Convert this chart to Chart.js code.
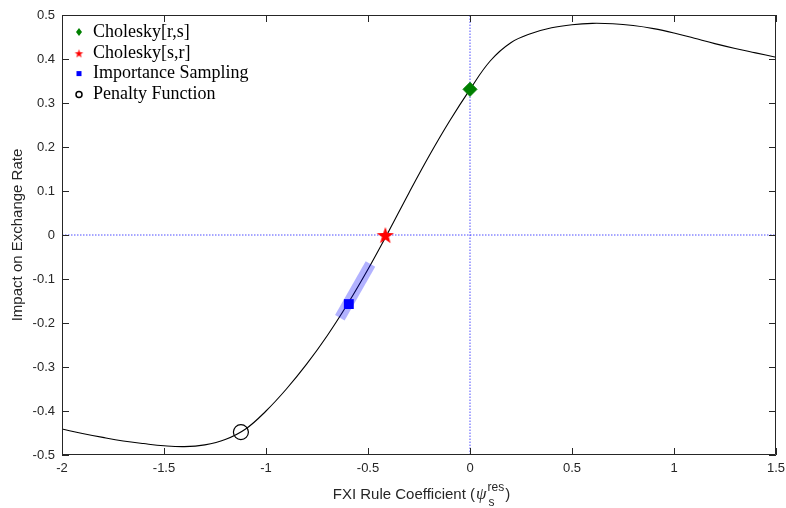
<!DOCTYPE html>
<html>
<head>
<meta charset="utf-8">
<script src="https://cdn.jsdelivr.net/npm/chart.js@4.4.1/dist/chart.umd.min.js"></script>
<style>
html, body {margin: 0; padding: 0; background: #fff;}
</style>
</head>
<body>
<canvas id="grafic" width="786" height="508"></canvas>
<script>
// values
const xTicks = [-2, -1.5, -1, -0.5, 0, 0.5, 1, 1.5];
const yTicks = [-0.5, -0.4, -0.3, -0.2, -0.1, 0, 0.1, 0.2, 0.3, 0.4, 0.5];

const curveX = [-2.0, -1.9, -1.8, -1.7, -1.6, -1.5, -1.4, -1.3, -1.2, -1.1, -1.0, -0.9, -0.8, -0.7, -0.6, -0.5, -0.4, -0.3, -0.2, -0.1,
                0.0, 0.1, 0.2, 0.3, 0.4, 0.5, 0.6, 0.7, 0.8, 0.9, 1.0, 1.1, 1.2, 1.3, 1.4, 1.5];
const curveY = [-0.441, -0.451, -0.460, -0.468, -0.474, -0.479, -0.481, -0.477, -0.465, -0.441, -0.400, -0.350, -0.293, -0.229, -0.157, -0.078, 0.007, 0.095, 0.180, 0.259,
                0.331, 0.396, 0.437, 0.458, 0.471, 0.478, 0.481, 0.480, 0.476, 0.469, 0.459, 0.447, 0.435, 0.424, 0.414, 0.404];

const choleskyRS = [0, 0.331];
const choleskySR = [-0.415, 0];
const importance = [-0.594, -0.157];
const penalty = [-1.123, -0.448];
const bandX = [-0.638, -0.488];
const bandY = [-0.188, -0.066];

const legendLabels = ['Cholesky[r,s]', 'Cholesky[s,r]', 'Importance Sampling', 'Penalty Function'];

function make_star(outer, color) {
    const c = document.createElement('canvas');
    const s = Math.ceil(outer * 2 + 2);
    c.width = s;
    c.height = s;
    const g = c.getContext('2d');
    const inner = outer * 0.4;
    g.beginPath();
    for (let i = 0; i < 10; i++) {
        const r = i % 2 === 0 ? outer : inner;
        const a = -Math.PI / 2 + i * Math.PI / 5;
        const px = s / 2 + r * Math.cos(a);
        const py = s / 2 + 1 + r * Math.sin(a);
        if (i === 0) g.moveTo(px, py); else g.lineTo(px, py);
    }
    g.closePath();
    g.fillStyle = color;
    g.fill();
    return c;
}

const bigStar = make_star(9, '#ff0000');
const smallStar = make_star(4.5, '#ff0000');

function pairs(xs, ys) {
    return xs.map((v, i) => ({x: v, y: ys[i]}));
}

const frame = {
    id: 'frame',
    afterDatasetsDraw(chart) {
        const ctx = chart.ctx;
        const a = chart.chartArea;
        const sx = chart.scales.x;
        const sy = chart.scales.y;
        ctx.save();
        ctx.strokeStyle = '#262626';
        ctx.lineWidth = 1;
        ctx.beginPath();
        ctx.rect(Math.round(a.left) + 0.5, Math.round(a.top) + 0.5, Math.round(a.right - a.left) - 1, Math.round(a.bottom - a.top) - 1);
        xTicks.forEach(v => {
            const px = Math.round(sx.getPixelForValue(v)) + 0.5;
            ctx.moveTo(px, a.bottom);
            ctx.lineTo(px, a.bottom - 7);
            ctx.moveTo(px, a.top);
            ctx.lineTo(px, a.top + 7);
        });
        yTicks.forEach(v => {
            const py = Math.round(sy.getPixelForValue(v)) + 0.5;
            ctx.moveTo(a.left, py);
            ctx.lineTo(a.left + 7, py);
            ctx.moveTo(a.right, py);
            ctx.lineTo(a.right - 7, py);
        });
        ctx.stroke();
        ctx.restore();
    },
    afterDraw(chart) {
        const ctx = chart.ctx;
        const a = chart.chartArea;
        ctx.save();
        // legend
        ctx.font = '18px "Liberation Serif"';
        ctx.fillStyle = '#000';
        ctx.textBaseline = 'middle';
        ctx.textAlign = 'left';
        const mx = a.left + 17;
        legendLabels.forEach((t, i) => {
            const my = a.top + 17 + i * 20.8;
            if (i === 0) {
                ctx.fillStyle = '#008000';
                ctx.beginPath();
                ctx.moveTo(mx, my - 4); ctx.lineTo(mx + 3, my); ctx.lineTo(mx, my + 4); ctx.lineTo(mx - 3, my);
                ctx.closePath();
                ctx.fill();
            } else if (i === 1) {
                ctx.drawImage(smallStar, mx - smallStar.width / 2, my - smallStar.height / 2);
            } else if (i === 2) {
                ctx.fillStyle = '#0000ff';
                ctx.fillRect(mx - 2.5, my - 2.5, 5, 5);
            } else {
                ctx.strokeStyle = '#000';
                ctx.lineWidth = 1.5;
                ctx.beginPath();
                ctx.arc(mx, my, 3, 0, Math.PI * 2);
                ctx.stroke();
            }
            ctx.fillStyle = '#000';
            ctx.fillText(t, a.left + 31, my);
        });

        // axis titles
        ctx.fillStyle = '#262626';
        ctx.font = '15px "Liberation Sans"';
        ctx.textBaseline = 'alphabetic';
        const part1 = 'FXI Rule Coefficient (';
        const w1 = ctx.measureText(part1).width;
        ctx.font = 'italic 17px "Liberation Serif"';
        const wpsi = ctx.measureText('\u03c8').width;
        ctx.font = '12px "Liberation Sans"';
        const wres = ctx.measureText('res').width;
        ctx.font = '15px "Liberation Sans"';
        const wclose = ctx.measureText(')').width;
        const total = w1 + wpsi + 1 + wres + 1 + wclose;
        let x0 = (a.left + a.right) / 2 - total / 2 + 2;
        const base = 499;
        ctx.fillText(part1, x0, base);
        x0 += w1 + 1;
        ctx.font = 'italic 17px "Liberation Serif"';
        ctx.fillText('\u03c8', x0, base);
        x0 += wpsi + 1;
        ctx.font = '12px "Liberation Sans"';
        ctx.fillText('res', x0, base - 8);
        ctx.fillText('s', x0 + 1, base + 7);
        x0 += wres + 1;
        ctx.font = '15px "Liberation Sans"';
        ctx.fillText(')', x0, base);

        ctx.translate(18, (a.top + a.bottom) / 2);
        ctx.rotate(-Math.PI / 2);
        ctx.textAlign = 'center';
        ctx.textBaseline = 'middle';
        ctx.fillText('Impact on Exchange Rate', 0, 0);
        ctx.restore();
    }
};

const ctx = document.getElementById('grafic');

const data = {
    datasets: [
        {
            type: 'scatter', label: legendLabels[0], data: [{x: choleskyRS[0], y: choleskyRS[1]}],
            pointStyle: 'rectRot', pointRadius: 7, backgroundColor: '#008000', borderColor: '#008000', borderWidth: 1, order: 1
        },
        {
            type: 'scatter', label: legendLabels[1], data: [{x: choleskySR[0], y: choleskySR[1]}],
            pointStyle: bigStar, order: 1
        },
        {
            type: 'scatter', label: legendLabels[2], data: [{x: importance[0], y: importance[1]}],
            pointStyle: 'rect', pointRadius: 7, backgroundColor: '#0000ff', borderColor: '#0000ff', borderWidth: 0, order: 1
        },
        {
            type: 'scatter', label: legendLabels[3], data: [{x: penalty[0], y: penalty[1]}],
            pointStyle: 'circle', pointRadius: 7.5, backgroundColor: 'rgba(0,0,0,0)', borderColor: '#000', borderWidth: 1.2, order: 1
        },
        {
            type: 'line', label: 'band', data: pairs(bandX, bandY),
            borderColor: 'rgba(0,0,255,0.3)', borderWidth: 11, borderCapStyle: 'butt', pointRadius: 0, order: 3
        },
        {
            type: 'line', label: 'curve', data: pairs(curveX, curveY),
            borderColor: '#000', borderWidth: 1.1, pointRadius: 0, tension: 0.4, order: 5
        },
        {
            type: 'line', label: 'zero x', data: [{x: 0, y: -0.5}, {x: 0, y: 0.5}],
            borderColor: 'rgba(0,0,255,0.7)', borderWidth: 1, borderDash: [1.5, 1.5], pointRadius: 0, order: 9
        },
        {
            type: 'line', label: 'zero y', data: [{x: -2, y: 0}, {x: 1.5, y: 0}],
            borderColor: 'rgba(0,0,255,0.7)', borderWidth: 1, borderDash: [1.5, 1.5], pointRadius: 0, order: 9
        }
    ]
};

const config = {
    type: 'scatter',
    data: data,
    plugins: [frame],
    options: {
        responsive: false,
        animation: false,
        layout: {padding: {top: 15, right: 10, left: 0, bottom: 0}},
        plugins: {legend: {display: false}, tooltip: {enabled: false}},
        scales: {
            x: {
                type: 'linear', min: -2, max: 1.5,
                grid: {display: false, drawTicks: false}, border: {display: false},
                afterBuildTicks: s => { s.ticks = xTicks.map(v => ({value: v})); },
                afterFit: s => { s.height = 53; s.paddingLeft = 0; s.paddingRight = 0; },
                ticks: {
                    padding: 6, color: '#262626', maxRotation: 0,
                    font: {family: '"Liberation Sans"', size: 13},
                    callback: v => String(v)
                }
            },
            y: {
                type: 'linear', min: -0.5, max: 0.5,
                grid: {display: false, drawTicks: false}, border: {display: false},
                afterBuildTicks: s => { s.ticks = yTicks.map(v => ({value: v})); },
                afterFit: s => { s.width = 62; s.paddingTop = 0; s.paddingBottom = 0; },
                ticks: {
                    padding: 7, color: '#262626',
                    font: {family: '"Liberation Sans"', size: 13},
                    callback: v => String(v)
                }
            }
        }
    }
};

const grafica = new Chart(ctx, config);
</script>
</body>
</html>
